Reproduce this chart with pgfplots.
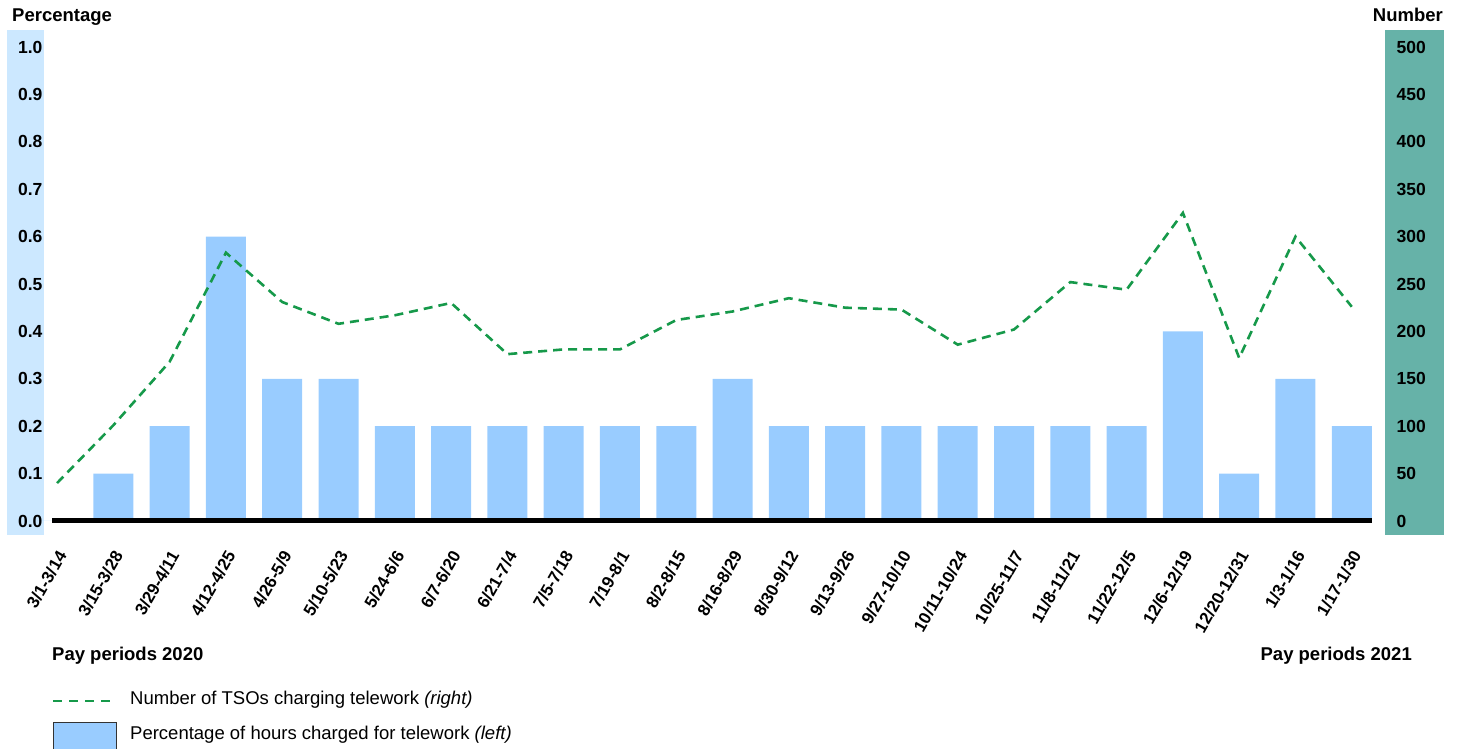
\documentclass[border=0pt]{standalone}
\usepackage{fontspec}
\setmainfont{Liberation Sans}
\usepackage{pgfplots}
\usepackage{pgfplotstable}
\pgfplotsset{compat=1.18}
\definecolor{barblue}{HTML}{99CCFF}
\definecolor{panelblue}{HTML}{CCE8FF}
\definecolor{panelteal}{HTML}{66B2A8}
\definecolor{linegreen}{HTML}{16994A}

\pgfplotstableread{
x pct num
0 0.0 40
1 0.1 101
2 0.2 168
3 0.6 283
4 0.3 231
5 0.3 208
6 0.2 217
7 0.2 230
8 0.2 176
9 0.2 181
10 0.2 181
11 0.2 212
12 0.3 221
13 0.2 235
14 0.2 225
15 0.2 223
16 0.2 186
17 0.2 202
18 0.2 252
19 0.2 244
20 0.4 325
21 0.1 172
22 0.3 300
23 0.2 226
}\datatable

\newcommand{\tickfont}{\bfseries\fontsize{17.5}{20}\selectfont}
\newcommand{\catfont}{\bfseries\fontsize{17}{19}\selectfont}
\newcommand{\ttlfont}{\bfseries\fontsize{18.5}{21}\selectfont}
\newcommand{\legfont}{\fontsize{18.5}{21}\selectfont}

\begin{document}
\begin{tikzpicture}
\useasboundingbox (0pt,0pt) rectangle (1460pt,749pt);
\fill[panelblue] (7pt,214pt) rectangle (44pt,719pt);
\fill[panelteal] (1385pt,214pt) rectangle (1444pt,719pt);

\begin{axis}[
  at={(52pt,228pt)}, anchor=south west,
  scale only axis, width=1320pt, height=474pt,
  xmin=-0.09, xmax=23.36, ymin=0, ymax=1,
  axis on top,
  axis x line*=bottom, axis y line*=left,
  x axis line style={line width=5pt, -},
  y axis line style={draw=none},
  major tick length=0pt,
  xtick={0,...,23},
  xticklabels={3/1-3/14,3/15-3/28,3/29-4/11,4/12-4/25,4/26-5/9,5/10-5/23,5/24-6/6,6/7-6/20,6/21-7/4,7/5-7/18,7/19-8/1,8/2-8/15,8/16-8/29,8/30-9/12,9/13-9/26,9/27-10/10,10/11-10/24,10/25-11/7,11/8-11/21,11/22-12/5,12/6-12/19,12/20-12/31,1/3-1/16,1/17-1/30},
  xticklabel style={rotate=60, anchor=east, font=\catfont, xshift=-21.3pt, yshift=-20.1pt},
  ytick={0,0.1,0.2,0.3,0.4,0.5,0.6,0.7,0.8,0.9,1.0},
  yticklabels={0.0,0.1,0.2,0.3,0.4,0.5,0.6,0.7,0.8,0.9,1.0},
  yticklabel style={font=\tickfont, xshift=-6pt},
  clip=false,
]
\addplot[ybar, bar width=40pt, fill=barblue, draw=none] table[x=x,y=pct]{\datatable};
\end{axis}

\begin{axis}[
  at={(52pt,228pt)}, anchor=south west,
  scale only axis, width=1320pt, height=474pt,
  xmin=-0.09, xmax=23.36, ymin=0, ymax=500,
  axis x line=none, axis y line*=right,
  y axis line style={draw=none},
  major tick length=0pt,
  ytick={0,50,...,500},
  yticklabel style={font=\tickfont, anchor=west, xshift=21pt},
  /pgf/number format/assume math mode=true,
  clip=false,
]
\addplot[linegreen, line width=2.6pt, dash pattern=on 9pt off 6pt] table[x=x,y=num]{\datatable};
\end{axis}

\node[anchor=base west, inner sep=0, font=\ttlfont] at (12pt,727pt) {Percentage};
\node[anchor=base east, inner sep=0, font=\ttlfont] at (1443pt,727pt) {Number};
\node[anchor=base west, inner sep=0, font=\ttlfont] at (52pt,88pt) {Pay periods 2020};
\node[anchor=base east, inner sep=0, font=\ttlfont] at (1412pt,88pt) {Pay periods 2021};

\draw[linegreen, line width=2.5pt, dash pattern=on 9pt off 7pt] (53pt,48pt) -- (116pt,48pt);
\node[anchor=base west, inner sep=0, font=\legfont] at (130pt,44pt) {Number of TSOs charging telework \textit{(right)}};
\filldraw[fill=barblue, draw=black!80, line width=0.8pt] (53pt,-5pt) rectangle (116pt,27pt);
\node[anchor=base west, inner sep=0, font=\legfont] at (130pt,9pt) {Percentage of hours charged for telework \textit{(left)}};
\end{tikzpicture}
\end{document}
